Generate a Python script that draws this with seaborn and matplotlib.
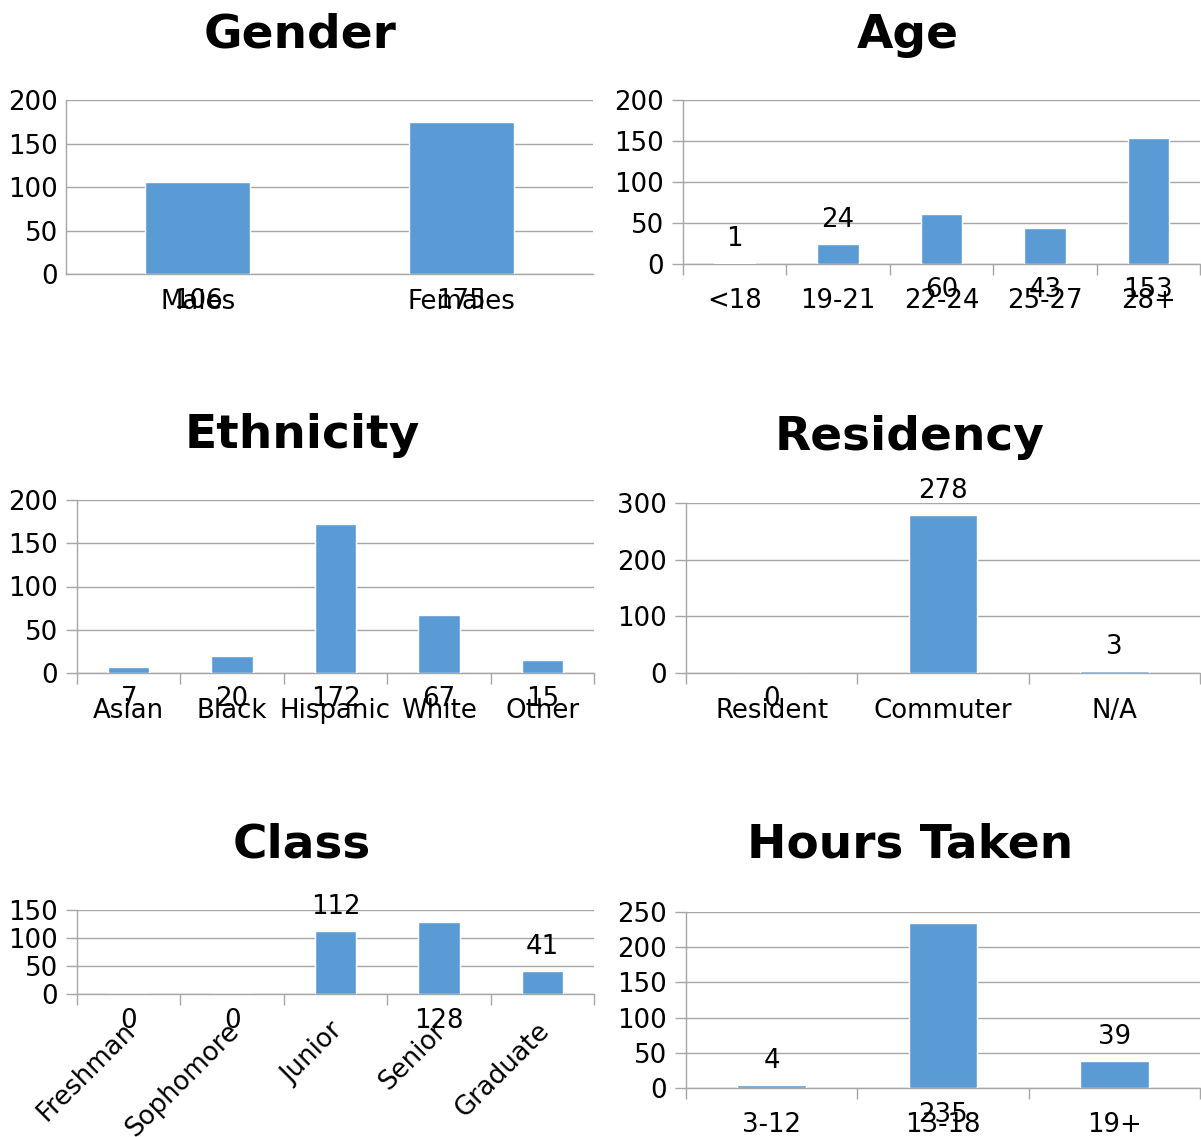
import matplotlib
matplotlib.use("Agg")
import matplotlib.pyplot as plt
import matplotlib.transforms as mtransforms
import seaborn as sns

# ---- data ----
gender_cats = ["Males", "Females"]
gender_vals = [106, 175]
age_cats = ["<18", "19-21", "22-24", "25-27", "28+"]
age_vals = [1, 24, 60, 43, 153]
eth_cats = ["Asian", "Black", "Hispanic", "White", "Other"]
eth_vals = [7, 20, 172, 67, 15]
res_cats = ["Resident", "Commuter", "N/A"]
res_vals = [0, 278, 3]
class_cats = ["Freshman", "Sophomore", "Junior", "Senior", "Graduate"]
class_vals = [0, 0, 112, 128, 41]
hours_cats = ["3-12", "13-18", "19+"]
hours_vals = [4, 235, 39]

sns.set_style("white")
plt.rcParams["font.family"] = ["DejaVu Sans"]
plt.rcParams["text.color"] = "black"
plt.rcParams["xtick.color"] = "black"
plt.rcParams["ytick.color"] = "black"

W, H = 1201, 1137
DPI = 100
fig = plt.figure(figsize=(W / DPI, H / DPI), dpi=DPI)

BLUE = "#5B9BD5"
GRID = "#A6A6A6"
FS = 18.7
TFS = 33.8
PX = 72.0 / DPI  # points per pixel


def make_axes(x0, x1, yt, yb):
    return fig.add_axes([x0 / W, 1 - yb / H, (x1 - x0) / W, (yb - yt) / H])


panels = [
    dict(title="Gender", tpos=(300, 35), box=(66, 593, 100, 274),
         cats=gender_cats, vals=gender_vals, ymax=200, step=50, ticks=False,
         lab=["below", "below"], rot=False),
    dict(title="Age", tpos=(908, 35), box=(683, 1200, 100, 263.5),
         cats=age_cats, vals=age_vals, ymax=200, step=50, ticks=True,
         lab=["above", "above", "below", "below", "below"], rot=False),
    dict(title="Ethnicity", tpos=(302, 435), box=(77, 594, 500, 673),
         cats=eth_cats, vals=eth_vals, ymax=200, step=50, ticks=True,
         lab=["below"] * 5, rot=False),
    dict(title="Residency", tpos=(910, 438), box=(686, 1200, 503, 673),
         cats=res_cats, vals=res_vals, ymax=300, step=100, ticks=True,
         lab=["below", "above", "above"], rot=False),
    dict(title="Class", tpos=(302, 845), box=(77, 594, 910, 994),
         cats=class_cats, vals=class_vals, ymax=150, step=50, ticks=True,
         lab=["below", "below", "above", "below", "above"], rot=True),
    dict(title="Hours Taken", tpos=(910, 845), box=(686, 1200, 912, 1088),
         cats=hours_cats, vals=hours_vals, ymax=250, step=50, ticks=True,
         lab=["above", "below", "above"], rot=False),
]

for p in panels:
    ax = make_axes(*p["box"])
    sns.barplot(x=p["cats"], y=p["vals"], ax=ax, color=BLUE, width=0.4,
                saturation=1, errorbar=None, zorder=3)
    n = len(p["cats"])
    ax.set_xlim(-0.5, n - 0.5)
    ax.set_ylim(0, p["ymax"])
    ax.set_yticks(range(0, p["ymax"] + 1, p["step"]))
    ax.set_xlabel("")
    ax.set_ylabel("")
    ax.yaxis.grid(True, color=GRID, lw=1.0)
    ax.xaxis.grid(False)
    ax.set_axisbelow(True)
    for s in ("top", "right"):
        ax.spines[s].set_visible(False)
    for s in ("left", "bottom"):
        ax.spines[s].set_color(GRID)
        ax.spines[s].set_linewidth(1.0)

    tl = 11 * PX if p["ticks"] else 0
    ax.tick_params(axis="y", which="major", length=tl, width=1.0, color=GRID,
                   pad=8 * PX, labelsize=FS, labelcolor="black", direction="out", left=True)
    ax.set_xticks(range(n))
    ax.set_xticklabels(p["cats"])
    if p["ticks"]:
        ax.set_xticks([i - 0.5 for i in range(n + 1)], minor=True)
        ax.tick_params(axis="x", which="minor", length=tl, width=1.0, color=GRID,
                       direction="out", bottom=True)
    xpad = (24.5 * PX) if p["ticks"] else (14.5 * PX)
    if p["rot"]:
        xpad = 24 * PX
    ax.tick_params(axis="x", which="major", length=0, pad=xpad, labelsize=FS,
                   labelcolor="black", bottom=True)
    if p["rot"]:
        off = mtransforms.ScaledTranslation(-6 / DPI, 0, fig.dpi_scale_trans)
        for lbl in ax.get_xticklabels():
            lbl.set_rotation(45)
            lbl.set_ha("right")
            lbl.set_va("top")
            lbl.set_rotation_mode("anchor")
            lbl.set_transform(lbl.get_transform() + off)

    for i, (v, where) in enumerate(zip(p["vals"], p["lab"])):
        if where == "above":
            ax.annotate(str(v), xy=(i, v), xytext=(0, 24 * PX), textcoords="offset points",
                        ha="center", va="center", fontsize=FS, color="black",
                        annotation_clip=False)
        else:
            ax.annotate(str(v), xy=(i, 0), xytext=(0, -26.5 * PX), textcoords="offset points",
                        ha="center", va="center", fontsize=FS, color="black",
                        annotation_clip=False)

    tx, ty = p["tpos"]
    fig.text(tx / W, 1 - ty / H, p["title"], ha="center", va="center",
             fontsize=TFS, fontweight="bold", color="black")

fig.savefig("out.png", dpi=DPI)
